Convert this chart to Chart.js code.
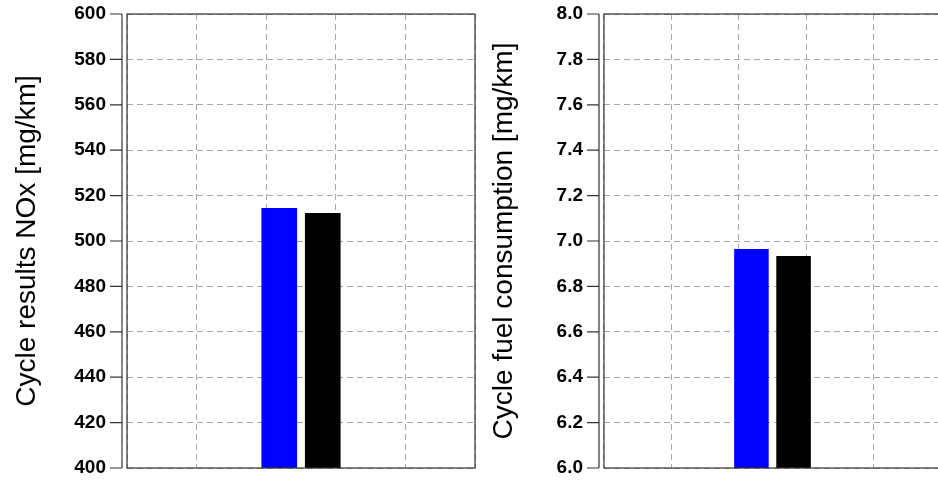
<!DOCTYPE html>
<html>
<head>
<meta charset="utf-8">
<script src="https://cdn.jsdelivr.net/npm/chart.js@4.4.1/dist/chart.umd.min.js"></script>
<style>
  html, body { margin: 0; padding: 0; background: #fff; overflow: hidden; }
  .wrap { position: relative; width: 938px; height: 481px; overflow: hidden; }
  .panel { position: absolute; top: 0; width: 477px; height: 481px; }
  #left { left: 0; }
  #right { left: 477px; }
</style>
</head>
<body>
<div class="wrap">
  <div class="panel" id="left"><canvas id="noxChart"></canvas></div>
  <div class="panel" id="right"><canvas id="fuelChart"></canvas></div>
</div>
<script>
// data
const cases = ["Cycle"];
const noxBlue = [514.5];
const noxBlack = [512.3];
const fuelBlue = [6.965];
const fuelBlack = [6.934];
const noxTicks = [400, 420, 440, 460, 480, 500, 520, 540, 560, 580, 600];
const fuelTicks = [6.0, 6.2, 6.4, 6.6, 6.8, 7.0, 7.2, 7.4, 7.6, 7.8, 8.0];
const gridTicks = [0, 1, 2, 3, 4];

const FONT = "'Liberation Sans', Arial, Helvetica, sans-serif";

// box round the plot, plus the detached y axis line with its tick marks
const frame = {
  id: 'frame',
  afterDraw(chart) {
    const ctx = chart.ctx;
    const a = chart.chartArea;
    const y = chart.scales.y;
    ctx.save();
    ctx.strokeStyle = '#333';
    ctx.lineWidth = 1.2;
    ctx.strokeRect(a.left, a.top, a.right - a.left, a.bottom - a.top);
    ctx.beginPath();
    ctx.moveTo(a.left - 5, a.top);
    ctx.lineTo(a.left - 5, a.bottom);
    y.ticks.forEach(function (t) {
      const py = y.getPixelForValue(t.value);
      ctx.moveTo(a.left - 17, py);
      ctx.lineTo(a.left - 5, py);
    });
    ctx.stroke();
    ctx.restore();
  }
};

function makeChart(id, title, blue, black, ticks, decimals, padRight) {
  const ctx = document.getElementById(id).getContext('2d');
  return new Chart(ctx, {
    type: 'bar',
    data: {
      labels: cases,
      datasets: [
        { data: blue, backgroundColor: '#0000ff', xAxisID: 'x' },
        { data: black, backgroundColor: '#000000', xAxisID: 'x' }
      ]
    },
    options: {
      responsive: true,
      maintainAspectRatio: false,
      animation: false,
      layout: { padding: { top: 14, bottom: 13, left: 0, right: padRight } },
      categoryPercentage: 0.25,
      barPercentage: 0.82,
      plugins: { legend: { display: false }, tooltip: { enabled: false } },
      scales: {
        x: {
          display: false,
          grid: { display: false }
        },
        xg: {
          type: 'linear',
          position: 'bottom',
          min: gridTicks[0],
          max: gridTicks[gridTicks.length - 1],
          afterBuildTicks: function (s) { s.ticks = gridTicks.map(v => ({ value: v })); },
          ticks: { display: false, padding: 0 },
          grid: { color: '#a8a8a8', lineWidth: 1, drawTicks: false },
          border: { display: false, dash: [6, 4] }
        },
        y: {
          min: ticks[0],
          max: ticks[ticks.length - 1],
          afterBuildTicks: function (s) { s.ticks = ticks.map(v => ({ value: v })); },
          afterFit: function (s) { s.width = 127; },
          ticks: {
            color: '#000',
            padding: 0,
            font: { family: FONT, size: 19, weight: 'bold' },
            callback: function (v) { return v.toFixed(decimals); }
          },
          grid: { color: '#a8a8a8', lineWidth: 1, drawTicks: true, tickLength: 21, tickColor: 'rgba(0,0,0,0)' },
          border: { display: false, dash: [6, 4] },
          title: {
            display: true,
            text: title,
            color: '#000',
            font: { family: FONT, size: 28, weight: 'normal' },
            padding: { top: 10, bottom: 0 }
          }
        }
      }
    },
    plugins: [frame]
  });
}

makeChart('noxChart', 'Cycle results NOx [mg/km]', noxBlue, noxBlack, noxTicks, 0, 2);
makeChart('fuelChart', 'Cycle fuel consumption [mg/km]', fuelBlue, fuelBlack, fuelTicks, 1, 13);
</script>
</body>
</html>
